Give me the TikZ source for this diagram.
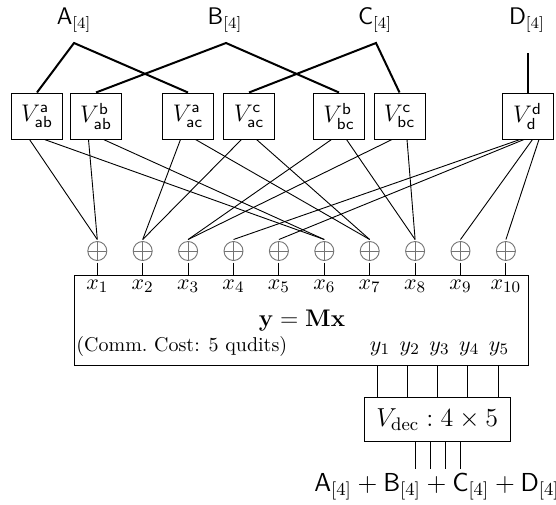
\documentclass[tikz,border=0pt]{standalone}
\usepackage{fix-cm}
\usepackage{amsmath}
\begin{document}
\begin{tikzpicture}[x=0.5pt,y=-0.5pt,
  lbl/.style={font=\large, inner sep=1pt},
  vbox/.style={draw, line width=0.5pt, minimum width=25.5pt, minimum height=23pt, inner sep=1pt, font=\large},
  topwire/.style={line width=1pt},
  wire/.style={line width=0.45pt},
  xo/.style={circle, draw=black!55, line width=0.45pt, minimum size=9.5pt, inner sep=0pt, outer sep=1pt,
    path picture={\draw[black!55, line width=0.45pt] (path picture bounding box.north) -- (path picture bounding box.south)
      (path picture bounding box.west) -- (path picture bounding box.east);}},
  sublbl/.style={font=\fontsize{10.95}{13}\selectfont, inner sep=0pt},
  bigbox/.style={draw, line width=0.5pt, inner sep=0pt},
  bigfont/.style={font=\fontsize{13}{15}\selectfont}
]
\useasboundingbox (0,0) rectangle (556,504);

% top labels
\node[lbl] (A) at (74,20) {$\mathsf{A}_{[4]}$};
\node[lbl] (B) at (225,20) {$\mathsf{B}_{[4]}$};
\node[lbl] (C) at (375,20) {$\mathsf{C}_{[4]}$};
\node[lbl] (D) at (527,20) {$\mathsf{D}_{[4]}$};
\coordinate (pa) at (74,43);
\coordinate (pb) at (226,43);
\coordinate (pc) at (376,43);
\coordinate (pd) at (527.5,53);

% V boxes
\node[vbox] (v1) at (37,116) {$V^{\mathsf{a}}_{\mathsf{ab}}$};
\node[vbox] (v2) at (96,116) {$V^{\mathsf{b}}_{\mathsf{ab}}$};
\node[vbox] (v3) at (188,116) {$V^{\mathsf{a}}_{\mathsf{ac}}$};
\node[vbox] (v4) at (249,116) {$V^{\mathsf{c}}_{\mathsf{ac}}$};
\node[vbox] (v5) at (339,116) {$V^{\mathsf{b}}_{\mathsf{bc}}$};
\node[vbox] (v6) at (399.5,116) {$V^{\mathsf{c}}_{\mathsf{bc}}$};
\node[vbox] (v7) at (527.5,116) {$V^{\mathsf{d}}_{\mathsf{d}}$};

% top wires
\draw[topwire] (v1.north) -- (pa) -- (v3.north);
\draw[topwire] (v2.north) -- (pb) -- (v5.north);
\draw[topwire] (v4.north) -- (pc) -- (v6.north);
\draw[topwire] (pd) -- (v7.north);

% xor circles
\foreach \i in {1,...,10} {
  \node[xo] (c\i) at ({97.3+45.4*(\i-1)},251) {};
}

% box to circle wires
\foreach \b/\l/\r in {1/1/6, 2/1/6, 3/2/7, 4/2/7, 5/3/8, 6/3/8} {
  \draw[wire] ([xshift=-3.75pt]v\b.south) -- (c\l.north);
  \draw[wire] ([xshift=3.75pt]v\b.south) -- (c\r.north);
}
\draw[wire] ([xshift=-3.75pt]v7.south) -- (c4.north);
\draw[wire] ([xshift=-1.75pt]v7.south) -- (c5.north);
\draw[wire] ([xshift=2.5pt]v7.south) -- (c9.north);
\draw[wire] ([xshift=5.75pt]v7.south) -- (c10.north);

% main box
\node[bigbox, minimum width=227pt, minimum height=45.25pt] (M) at (301.5,320.25) {};
\foreach \i in {1,...,10} {
  \draw[wire] (c\i.south) -- (c\i.south |- M.north);
  \node[sublbl, anchor=base] (xl\i) at ({97.3+45.4*(\i-1)},289.5) {$x_{\i}$};
}
\node[font=\large, anchor=base, inner sep=0pt] (eq) at (302,326.7) {$\mathbf{y}=\mathbf{M}\mathbf{x}$};
\node[anchor=base west, inner sep=0pt] (cost) at (76,351.7) {(Comm.\ Cost: 5 qudits)};
\foreach \i in {1,...,5} {
  \node[sublbl, anchor=base] (yl\i) at ({380+29.75*(\i-1)},351.7) {$y_{\i}$};
  \coordinate (yt\i) at ({377+30.25*(\i-1)},0);
}

% decoder
\node[draw, line width=0.5pt, bigfont, minimum width=73pt, minimum height=21.9pt, inner sep=1pt] (Vd) at (437.2,419.2) {$V_{\mathrm{dec}}:4\times 5$};
\foreach \i in {1,...,5} {
  \draw[wire] (yt\i |- M.south) -- (yt\i |- Vd.north);
}

% output
\node[bigfont, anchor=base, inner sep=2pt] (out) at (437,491) {$\mathsf{A}_{[4]}+\mathsf{B}_{[4]}+\mathsf{C}_{[4]}+\mathsf{D}_{[4]}$};
\foreach \i in {1,...,4} {
  \coordinate (bt\i) at ({415.3+15*(\i-1)},0);
  \draw[wire] (bt\i |- Vd.south) -- (bt\i |- out.north);
}
\end{tikzpicture}
\end{document}
